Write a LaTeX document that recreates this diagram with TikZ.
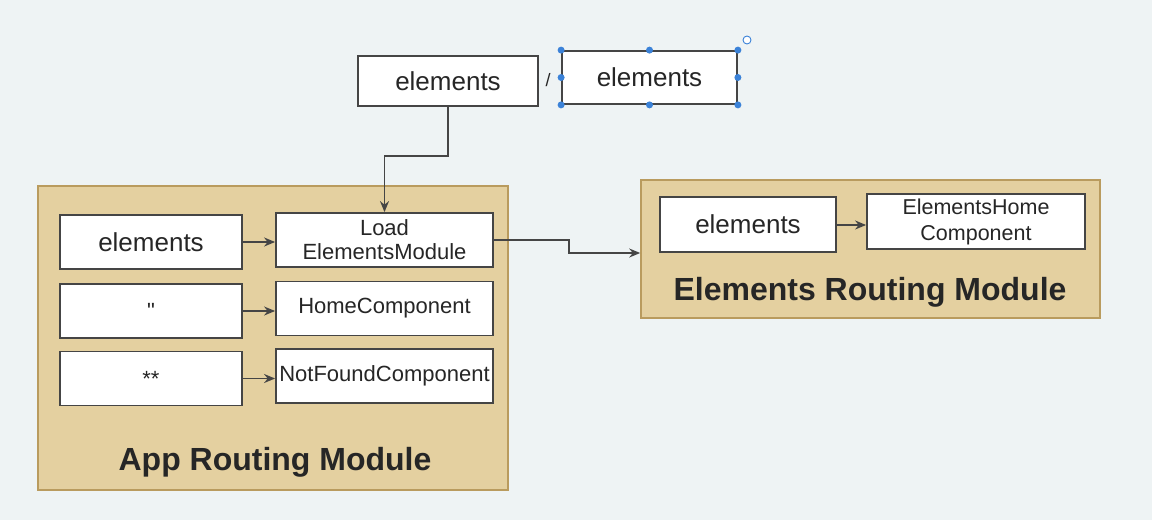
\documentclass[tikz,border=0pt]{standalone}
\usepackage{fontspec}
\setmainfont{Liberation Sans}
\newfontfamily\rawfont{Liberation Sans}[Ligatures=TeXOff]
\usetikzlibrary{arrows.meta,calc}
\definecolor{bgc}{HTML}{EEF3F4}
\definecolor{modfill}{HTML}{E4D0A0}
\definecolor{moddraw}{HTML}{B99B5E}
\definecolor{boxdraw}{HTML}{454545}
\definecolor{txt}{HTML}{262626}
\definecolor{handle}{HTML}{3B82D8}
\tikzset{
  routebox/.style={draw=boxdraw, line width=1.8pt, fill=white, inner sep=0pt, text=txt, align=center},
  bigtxt/.style={font=\fontsize{26}{30}\selectfont},
  midtxt/.style={font=\fontsize{22}{24}\selectfont},
  modbox/.style={draw=moddraw, line width=1.6pt, fill=modfill, inner sep=0pt},
  modlabel/.style={font=\bfseries\fontsize{32}{36}\selectfont, text=txt, inner sep=0pt},
  arr/.style={draw=boxdraw, line width=1.6pt, -{Stealth[length=11pt,width=9pt]}},
  hdl/.style={circle, fill=handle, inner sep=0pt, minimum size=7pt}
}
\begin{document}
\begin{tikzpicture}[x=1pt,y=-1pt]
\fill[bgc] (0,0) rectangle (1152,520);
\useasboundingbox (0,0) rectangle (1152,520);

% containers
\node[modbox, minimum width=470pt, minimum height=304pt] (app) at (273,338) {};
\node[modbox, minimum width=459pt, minimum height=138pt] (erm) at (870.5,249) {};
\node[modlabel] (applbl) at (275,462) {App Routing Module};
\node[modlabel] (ermlbl) at (870,292) {Elements Routing Module};

% top boxes
\node[routebox, bigtxt, minimum width=180pt, minimum height=50pt] (top) at (448,81) {elements};
\node[text=txt, font=\fontsize{18}{20}\selectfont, inner sep=0pt] (slash) at (548,80) {/};
\node[routebox, bigtxt, minimum width=175pt, minimum height=53pt] (sel) at (649.5,77.5) {elements};
\foreach \a in {north west,north,north east,west,east,south west,south,south east}
  \node[hdl] at (sel.\a) {};
\node[circle, draw=handle, line width=0.9pt, fill=white, inner sep=0pt, minimum size=8pt] (rot) at (747,40) {};

% app routing module boxes
\node[routebox, bigtxt, minimum width=182pt, minimum height=54pt] (l1) at (151,242) {elements};
\node[routebox, font=\rawfont\fontsize{22}{24}\selectfont, minimum width=182pt, minimum height=54pt] (l2) at (151,311) {"};
\node[routebox, midtxt, minimum width=182pt, minimum height=54pt] (l3) at (151,378.5) {**};
\node[routebox, midtxt, minimum width=217pt, minimum height=54pt] (load) at (384.5,240) {Load\\ElementsModule};
\node[routebox, midtxt, minimum width=217pt, minimum height=54pt] (home) at (384.5,308.5) {HomeComponent};
\node[routebox, midtxt, minimum width=217pt, minimum height=54pt] (nf) at (384.5,376) {NotFoundComponent};

% elements routing module boxes
\node[routebox, bigtxt, minimum width=176pt, minimum height=55pt] (el) at (748,224.5) {elements};
\node[routebox, midtxt, font=\fontsize{21.5}{26}\selectfont, minimum width=218pt, minimum height=55pt] (ehc) at (976,221.5) {ElementsHome\\Component};

% connectors
\draw[arr] (top.south) -- ++(0,49) -| (load.north);
\draw[arr] (l1.east) -- (l1.east -| load.west);
\draw[arr] (l2.east) -- (l2.east -| home.west);
\draw[arr] (l3.east) -- (l3.east -| nf.west);
\draw[arr] (load.east) -- ++(75,0) |- ([yshift=-4pt]erm.west);
\draw[arr] ([yshift=-0.5pt]el.east) -- ([yshift=-0.5pt]el.east -| ehc.west);
\end{tikzpicture}
\end{document}
